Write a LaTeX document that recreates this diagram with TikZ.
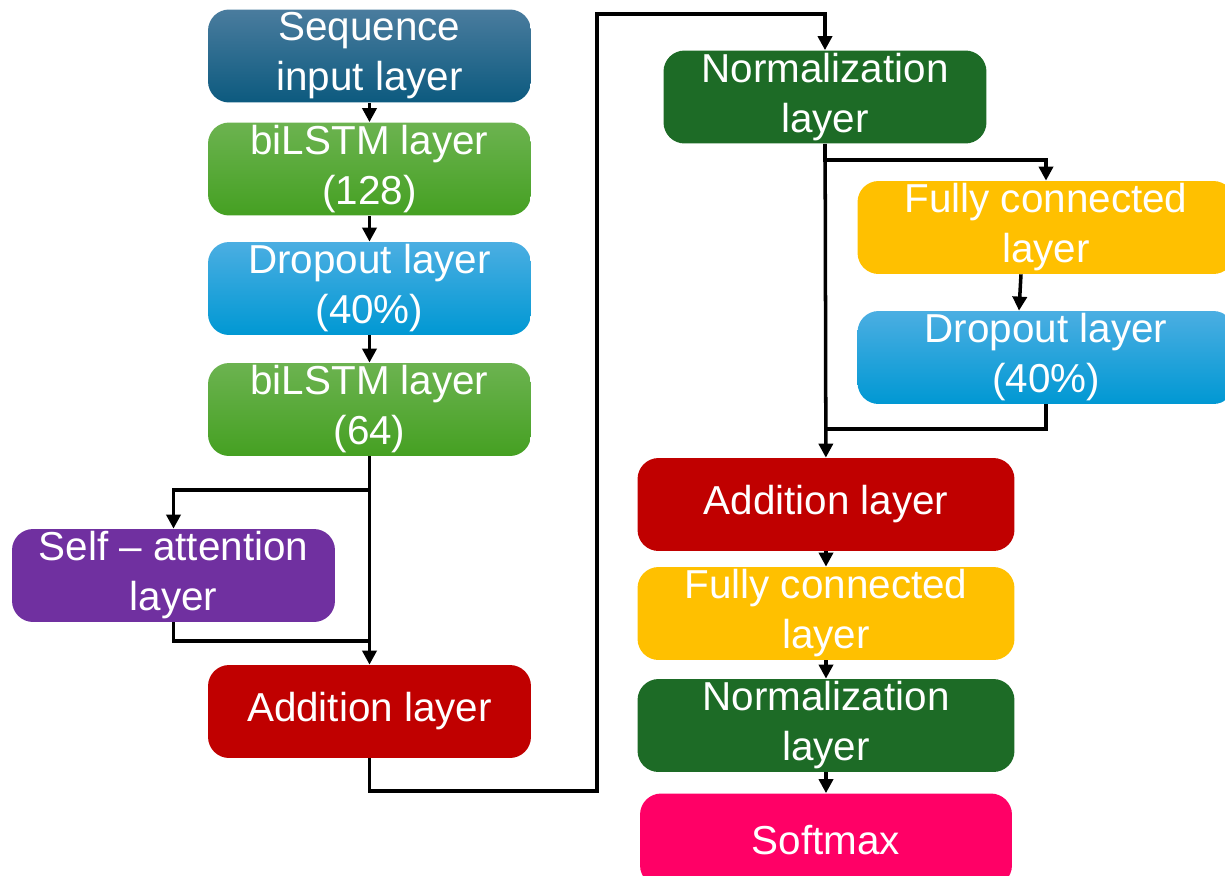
\documentclass[tikz,border=0pt]{standalone}
\usepackage{fontspec}
\setmainfont{Liberation Sans}
\usepackage{tikz}
\usetikzlibrary{arrows.meta,calc}

\definecolor{seqtop}{HTML}{4A7C9E}
\definecolor{seqbot}{HTML}{0C5A7F}
\definecolor{lstmtop}{HTML}{6CB350}
\definecolor{lstmbot}{HTML}{45A022}
\definecolor{droptop}{HTML}{4BAEE2}
\definecolor{dropbot}{HTML}{0098D3}
\definecolor{attnpurple}{HTML}{7030A0}
\definecolor{addred}{HTML}{C00000}
\definecolor{normgreen}{HTML}{1D6B26}
\definecolor{fcgold}{HTML}{FFC000}
\definecolor{softpink}{HTML}{FF0066}

\begin{document}
\begin{tikzpicture}[x=0.02cm, y=-0.02cm,
    layer/.style={rounded corners=12pt, minimum width=6.46cm, minimum height=1.86cm,
        align=center, text=white, font=\fontsize{23}{28.5}\selectfont, inner sep=0pt},
    wide/.style={layer, minimum width=7.54cm},
    line/.style={line width=2pt},
    arr/.style={line, -{Triangle[length=8pt,width=8pt]}}]
        \useasboundingbox (0,0) rectangle (1225,876);

        \node[layer, top color=seqtop, bottom color=seqbot] (seq) at (369.5,56) {Sequence\\input layer};
        \node[layer, top color=lstmtop, bottom color=lstmbot] (lstmA) at (369.5,169) {biLSTM layer\\(128)};
        \node[layer, top color=droptop, bottom color=dropbot] (dropA) at (369.5,288.5) {Dropout layer\\(40\%)};
        \node[layer, top color=lstmtop, bottom color=lstmbot] (lstmB) at (369.5,409.5) {biLSTM layer\\(64)};
        \node[layer, fill=attnpurple] (attn) at (173.5,575.5) {Self -- attention\\layer};
        \node[layer, fill=addred] (addA) at (369.5,711.5) {Addition layer};

        \node[layer, fill=normgreen] (normA) at (825,97) {Normalization\\layer};
        \node[wide, fill=fcgold] (fcA) at (1046,227.5) {Fully connected\\layer};
        \node[wide, top color=droptop, bottom color=dropbot] (dropB) at (1046,357.5) {Dropout layer\\(40\%)};
        \node[wide, fill=addred] (addB) at (826,504.5) {Addition layer};
        \node[wide, fill=fcgold] (fcB) at (826,613.5) {Fully connected\\layer};
        \node[wide, fill=normgreen] (normB) at (826,725.5) {Normalization\\layer};
        \node[wide, fill=softpink, minimum width=7.44cm] (soft) at (826,840) {Softmax};

        \coordinate (splitA) at (369.5,490);
        \coordinate (joinA) at (369.5,641);
        \coordinate (loopA) at (597,791);
        \coordinate (loopB) at (597,14);
        \coordinate (splitB) at (825,160);
        \coordinate (joinB) at (825,429);

        \foreach \a/\b in {seq/lstmA, lstmA/dropA, dropA/lstmB, lstmB/addA, normA/addB, addB/fcB, fcB/normB, normB/soft} {
            \draw[arr] (\a) -- (\b);
        }
        \draw[arr] (lstmB.south) -- (splitA) -| (attn.north);
        \draw[line] (attn.south) |- (joinA);
        \draw[arr] (addA.south) |- (loopA) -- (loopB) -| (normA.north);
        \draw[arr] (normA.south) -- (splitB) -| (fcA.north);
        \draw[arr] ($(fcA.south)+(-25,0)$) -- ($(dropB.north)+(-27,0)$);
        \draw[line] (dropB.south) |- (joinB);
    \end{tikzpicture}
\end{document}
